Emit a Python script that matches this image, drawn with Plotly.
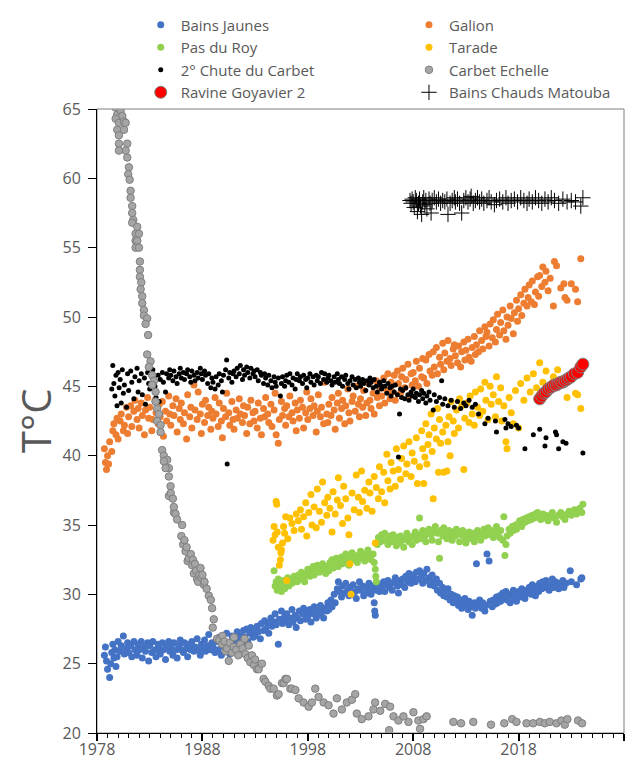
import plotly.graph_objects as go

# ---------------- data ----------------
bj_x = [1978.7,1978.8,1978.9,1979.0,1979.2,1979.3,1979.4,1979.5,1979.6,1979.7,1979.8,1979.9,
        1980.0,1980.2,1980.3,1980.5,1980.6,1980.8,1980.9,
        1981.0,1981.2,1981.3,1981.5,1981.6,1981.8,1981.9,
        1982.0,1982.2,1982.3,1982.5,1982.6,1982.8,1982.9,
        1983.0,1983.2,1983.3,1983.5,1983.6,1983.8,1983.9,
        1984.0,1984.2,1984.3,1984.5,1984.6,1984.8,1984.9,
        1985.0,1985.2,1985.3,1985.5,1985.6,1985.8,1985.9,
        1986.0,1986.2,1986.3,1986.5,1986.6,1986.8,1986.9,
        1987.0,1987.2,1987.3,1987.5,1987.6,1987.8,1987.9,
        1988.0,1988.2,1988.3,1988.5,1988.6,1988.8,1988.9,
        1989.0,1989.2,1989.3,1989.5,1989.6,1989.8,1989.9,
        1990.0,1990.2,1990.3,1990.5,1990.6,1990.8,1990.9,
        1991.0,1991.2,1991.3,1991.5,1991.6,1991.8,1991.9,
        1992.0,1992.2,1992.3,1992.5,1992.6,1992.8,1992.9,
        1993.0,1993.2,1993.3,1993.5,1993.6,1993.8,1993.9,
        1994.0,1994.2,1994.3,1994.5,1994.6,1994.8,1994.9,
        1995.0,1995.2,1995.3,1995.5,1995.6,1995.8,1995.9,
        1996.0,1996.2,1996.3,1996.5,1996.6,1996.8,1996.9,
        1997.0,1997.2,1997.3,1997.5,1997.6,1997.8,1997.9,
        1998.0,1998.2,1998.3,1998.5,1998.6,1998.8,1998.9,
        1999.0,1999.2,1999.3,1999.5,1999.6,1999.8,1999.9,
        2000.0,2000.2,2000.3,2000.5,2000.6,2000.8,2000.9,
        2001.0,2001.2,2001.3,2001.5,2001.6,2001.8,2001.9,
        2002.0,2002.2,2002.3,2002.5,2002.6,2002.8,2002.9,
        2003.0,2003.2,2003.3,2003.5,2003.6,2003.8,2003.9,
        2004.0,2004.2,2004.3,2004.35,2004.4,2004.5,2004.6,2004.8,2004.9,
        2005.0,2005.2,2005.3,2005.5,2005.6,2005.8,2005.9,
        2006.0,2006.2,2006.3,2006.5,2006.6,2006.8,2006.9,
        2007.0,2007.2,2007.3,2007.5,2007.6,2007.8,2007.9,
        2008.0,2008.2,2008.3,2008.5,2008.6,2008.8,2008.9,
        2009.0,2009.2,2009.3,2009.5,2009.6,2009.8,2009.9,
        2010.0,2010.2,2010.3,2010.5,2010.6,2010.8,2010.9,
        2011.0,2011.2,2011.3,2011.5,2011.6,2011.8,2011.9,
        2012.0,2012.2,2012.3,2012.5,2012.6,2012.8,2012.9,
        2013.0,2013.2,2013.3,2013.5,2013.6,2013.8,2013.9,
        2014.0,2014.2,2014.3,2014.5,2014.6,2014.8,2014.9,
        2015.0,2015.2,2015.3,2015.5,2015.6,2015.8,2015.9,
        2016.0,2016.2,2016.3,2016.5,2016.6,2016.8,2016.9,
        2017.0,2017.2,2017.3,2017.5,2017.6,2017.8,2017.9,
        2018.0,2018.2,2018.3,2018.5,2018.6,2018.8,2018.9,
        2019.0,2019.2,2019.3,2019.5,2019.6,2019.8,2019.9,
        2020.0,2020.2,2020.3,2020.5,2020.6,2020.8,2020.9,
        2021.0,2021.2,2021.3,2021.5,2021.6,2021.8,2021.9,
        2022.0,2022.2,2022.3,2022.5,2022.9,2023.0,2023.5,2023.9,2024.0]
bj_y = [25.6,26.2,25.2,24.6,24.0,25.0,25.8,26.4,25.4,26.0,24.8,25.5,
        26.6,25.9,26.3,27.0,25.7,26.1,26.5,
        25.8,26.3,25.5,26.6,26.0,25.6,26.4,
        26.0,26.6,25.4,26.2,25.9,26.5,25.2,
        26.3,25.8,26.6,26.0,25.5,26.4,26.1,
        25.7,26.5,26.0,25.3,26.3,26.6,25.9,
        26.2,25.6,26.5,26.0,25.4,26.3,26.7,
        26.0,25.8,26.5,26.1,25.5,26.4,26.0,
        26.6,25.9,26.2,26.8,26.0,25.6,26.4,
        26.1,26.7,25.9,26.3,27.1,26.0,26.5,
        26.2,25.8,26.6,26.0,26.9,25.6,26.3,
        26.6,25.9,27.2,26.4,25.7,27.0,26.5,
        26.8,26.3,27.3,26.7,27.0,26.4,27.4,
        26.9,27.5,26.6,27.2,27.6,26.9,27.3,
        27.0,27.7,27.3,26.8,27.9,27.4,28.1,
        27.5,27.9,27.2,28.3,27.7,28.0,28.6,
        27.8,26.4,28.2,28.8,27.9,28.4,28.1,
        28.6,27.8,28.3,28.9,28.0,28.5,27.6,
        28.3,28.8,28.1,28.6,29.0,28.2,28.7,
        28.4,28.9,28.0,28.6,29.1,28.3,28.8,
        28.5,29.2,28.7,28.3,29.0,28.8,29.4,
        28.9,29.6,29.1,30.0,29.4,30.4,30.9,
        30.2,29.8,30.6,30.1,30.8,30.3,29.9,
        30.5,30.0,30.7,30.2,29.7,30.4,30.9,
        30.3,30.6,29.9,30.5,30.1,30.8,30.4,
        30.0,30.6,29.4,28.8,28.5,30.3,30.8,30.2,30.6,
        30.4,30.9,30.2,30.7,31.0,30.5,30.8,
        30.3,30.9,31.2,30.6,30.1,31.0,30.7,
        31.1,30.5,31.3,30.9,31.5,30.8,31.2,
        31.4,30.9,31.6,31.1,31.7,31.3,30.8,
        31.5,31.0,31.8,31.2,30.7,31.4,30.9,
        30.6,31.1,30.3,30.8,30.1,30.5,29.9,
        30.2,29.8,30.4,29.6,30.0,29.4,29.9,
        29.5,29.8,29.2,29.6,29.0,29.4,29.7,
        29.3,28.9,29.5,29.1,28.5,29.4,29.0,
        32.2,29.3,29.6,29.0,29.4,28.8,29.2,
        32.9,32.4,29.5,29.1,29.6,29.3,29.8,
        29.4,29.9,29.5,30.1,29.7,30.2,29.6,
        30.0,29.4,29.9,30.3,29.7,29.5,30.0,
        30.2,29.8,30.4,30.0,29.7,30.3,30.1,
        30.5,30.0,30.7,30.3,29.9,30.6,30.2,
        30.8,30.4,30.9,30.5,31.0,30.6,30.3,
        30.7,31.1,30.5,30.9,30.6,30.4,30.8,
        30.7,31.0,30.5,30.8,31.7,30.9,30.7,31.1,31.2]

ga_x = [1978.7,1978.8,1978.9,1979.0,1979.1,1979.2,1979.4,1979.5,1979.6,1979.8,1979.9,
        1980.0,1980.2,1980.3,1980.5,1980.6,1980.8,1980.9,
        1981.0,1981.2,1981.3,1981.5,1981.6,1981.8,1981.9,
        1982.0,1982.2,1982.3,1982.5,1982.6,1982.8,1982.9,
        1983.0,1983.2,1983.3,1983.5,1983.6,1983.8,1983.9,
        1984.0,1984.2,1984.3,1984.5,1984.6,1984.8,1984.9,
        1985.0,1985.2,1985.3,1985.5,1985.6,1985.8,1985.9,
        1986.0,1986.2,1986.3,1986.5,1986.6,1986.8,1986.9,
        1987.0,1987.2,1987.3,1987.5,1987.6,1987.8,1987.9,
        1988.0,1988.2,1988.3,1988.5,1988.6,1988.8,1988.9,
        1989.0,1989.2,1989.3,1989.5,1989.6,1989.8,1989.9,
        1990.0,1990.2,1990.3,1990.5,1990.6,1990.8,1990.9,
        1991.0,1991.2,1991.3,1991.5,1991.6,1991.8,1991.9,
        1992.0,1992.2,1992.3,1992.5,1992.6,1992.8,1992.9,
        1993.0,1993.2,1993.3,1993.5,1993.6,1993.8,1993.9,
        1994.0,1994.2,1994.3,1994.5,1994.6,1994.8,1994.9,
        1995.0,1995.2,1995.3,1995.5,1995.6,1995.8,1995.9,
        1996.0,1996.2,1996.3,1996.5,1996.6,1996.8,1996.9,
        1997.0,1997.2,1997.3,1997.5,1997.6,1997.8,1997.9,
        1998.0,1998.2,1998.3,1998.5,1998.6,1998.8,1998.9,
        1999.0,1999.2,1999.3,1999.5,1999.6,1999.8,1999.9,
        2000.0,2000.2,2000.3,2000.5,2000.6,2000.8,2000.9,
        2001.0,2001.2,2001.3,2001.5,2001.6,2001.8,2001.9,
        2002.0,2002.2,2002.3,2002.5,2002.6,2002.8,2002.9,
        2003.0,2003.2,2003.3,2003.5,2003.6,2003.8,2003.9,
        2004.0,2004.2,2004.3,2004.5,2004.6,2004.8,2004.9,
        2005.0,2005.2,2005.3,2005.5,2005.6,2005.8,2005.9,
        2006.0,2006.2,2006.3,2006.5,2006.6,2006.8,2006.9,
        2007.0,2007.2,2007.3,2007.5,2007.6,2007.8,2007.9,
        2008.0,2008.2,2008.3,2008.5,2008.6,2008.8,2008.9,
        2009.0,2009.2,2009.3,2009.5,2009.6,2009.8,2009.9,
        2010.0,2010.2,2010.3,2010.5,2010.6,2010.8,2010.9,
        2011.0,2011.2,2011.3,2011.5,2011.6,2011.8,2011.9,
        2012.0,2012.2,2012.3,2012.5,2012.6,2012.8,2012.9,
        2013.0,2013.2,2013.3,2013.5,2013.6,2013.8,2013.9,
        2014.0,2014.2,2014.3,2014.5,2014.6,2014.8,2014.9,
        2015.0,2015.2,2015.3,2015.5,2015.6,2015.8,2015.9,
        2016.0,2016.2,2016.3,2016.5,2016.6,2016.8,2016.9,
        2017.0,2017.2,2017.3,2017.5,2017.6,2017.8,2017.9,
        2018.0,2018.2,2018.3,2018.5,2018.6,2018.8,2018.9,
        2019.0,2019.2,2019.3,2019.5,2019.6,2019.8,2019.9,
        2020.0,2020.2,2020.3,2020.5,2020.6,2020.8,2021.0,2021.3,
        2021.4,2021.6,2022.0,2022.3,2022.4,2022.6,2023.0,2023.4,2023.6,2023.9]
ga_y = [40.5,39.5,39.0,40.0,39.4,41.0,40.3,41.8,42.3,41.5,42.7,
        41.2,42.5,43.0,41.8,42.2,43.5,41.6,
        42.8,43.6,42.1,43.2,44.0,42.6,43.4,
        42.0,43.8,42.9,41.5,43.3,44.2,42.7,
        43.5,41.8,42.6,44.0,43.1,42.3,43.7,
        42.8,43.9,41.4,43.2,42.5,44.3,43.0,
        42.2,43.6,42.9,44.1,41.7,43.4,42.6,
        43.8,42.3,43.1,41.2,44.4,42.8,43.5,
        42.0,45.1,43.3,42.6,44.6,43.0,41.6,
        43.7,42.4,44.0,42.9,43.5,41.9,43.2,
        42.7,44.2,43.0,42.1,43.8,42.5,41.3,
        43.4,42.8,44.5,43.1,42.2,43.9,42.6,
        41.9,43.3,42.7,44.1,43.0,42.4,43.6,
        42.9,41.6,43.5,42.3,44.0,43.1,42.5,
        43.2,42.0,43.8,42.7,41.5,43.4,42.8,
        44.2,43.0,42.4,43.7,42.1,43.3,44.5,
        41.5,40.9,42.6,43.9,42.9,43.4,42.2,
        43.6,42.8,44.3,43.1,42.5,43.8,41.8,
        43.3,42.7,44.0,43.5,42.0,43.1,44.6,
        42.6,43.4,44.1,42.9,43.6,41.7,43.2,
        44.4,42.8,43.5,42.3,45.3,43.0,42.4,
        43.7,42.9,44.2,43.3,41.9,43.8,44.5,
        42.7,43.4,44.0,42.3,43.6,44.8,43.1,
        42.5,43.9,44.3,43.2,45.0,43.7,42.8,
        44.1,43.5,44.7,42.9,43.8,45.2,44.0,
        43.4,44.5,43.0,45.4,44.2,43.6,44.9,
        44.3,45.6,43.8,44.7,45.9,44.1,45.3,
        44.6,45.8,44.0,46.1,45.2,44.5,45.7,
        46.3,44.9,45.5,46.6,44.3,45.9,45.1,
        46.0,45.4,46.8,45.0,46.3,45.7,47.0,
        45.6,46.9,45.2,47.3,46.1,45.8,47.5,
        46.4,47.8,45.9,47.1,46.6,48.1,46.2,
        47.4,46.8,48.3,47.0,46.5,47.7,48.0,
        47.2,46.7,47.9,46.4,47.5,48.2,46.9,
        47.6,48.4,47.1,46.8,47.8,48.6,47.3,
        48.0,47.5,49.0,48.3,47.7,49.3,48.6,
        48.9,47.9,49.5,48.5,49.8,48.2,49.1,
        50.2,48.7,49.6,50.5,49.0,48.4,50.0,
        49.4,50.8,49.9,48.8,50.3,51.2,49.7,
        50.6,51.6,50.1,51.0,52.0,50.8,51.4,
        52.3,51.1,52.6,50.9,51.8,52.9,51.5,
        53.0,52.2,53.6,52.5,53.3,51.9,52.8,50.8,
        54.0,53.7,52.1,52.4,51.4,51.2,52.4,52.0,51.1,54.2]

pr_x = [1994.8,1994.9,1995.0,1995.1,1995.2,1995.3,1995.4,1995.5,1995.6,1995.7,1995.8,1995.9,
        1996.1,1996.2,1996.4,1996.5,1996.7,1996.8,1997.0,1997.1,1997.3,1997.4,1997.6,1997.7,1997.9,
        1998.0,1998.2,1998.3,1998.5,1998.6,1998.8,1998.9,1999.1,1999.2,1999.4,1999.5,1999.7,1999.8,
        2000.0,2000.1,2000.3,2000.4,2000.6,2000.7,2000.9,2001.0,2001.2,2001.3,2001.5,2001.6,2001.8,2001.9,
        2002.1,2002.2,2002.4,2002.5,2002.7,2002.8,2003.0,2003.1,2003.3,2003.4,2003.6,2003.7,2003.9,
        2004.0,2004.2,2004.3,2004.4,2004.45,2004.5,2004.6,2004.7,2004.9,
        2005.0,2005.2,2005.3,2005.5,2005.6,2005.8,2005.9,2006.1,2006.2,2006.4,2006.5,2006.7,2006.8,
        2007.0,2007.1,2007.3,2007.4,2007.6,2007.7,2007.9,2008.0,2008.2,2008.3,2008.5,2008.6,2008.8,2008.9,
        2009.1,2009.2,2009.4,2009.5,2009.7,2009.8,2010.0,2010.1,2010.3,2010.4,2010.5,2010.6,2010.8,2010.9,
        2011.1,2011.2,2011.4,2011.5,2011.7,2011.8,2012.0,2012.1,2012.3,2012.4,2012.6,2012.7,2012.9,
        2013.0,2013.2,2013.3,2013.5,2013.6,2013.8,2013.9,2014.1,2014.2,2014.4,2014.5,2014.7,2014.8,
        2015.0,2015.1,2015.3,2015.4,2015.6,2015.7,2015.9,2016.0,2016.2,2016.3,2016.5,2016.6,2016.7,2016.8,2016.9,
        2017.1,2017.2,2017.4,2017.5,2017.7,2017.8,2018.0,2018.1,2018.3,2018.4,2018.6,2018.7,2018.9,
        2019.0,2019.2,2019.3,2019.5,2019.6,2019.8,2019.9,2020.1,2020.3,2020.4,2020.6,2020.8,
        2021.0,2021.2,2021.4,2021.6,2021.8,2022.0,2022.2,2022.4,2022.6,2022.8,
        2023.0,2023.3,2023.5,2023.8,2024.0,2024.1]
pr_y = [31.7,30.6,30.9,30.3,31.1,30.5,30.8,30.2,30.7,31.0,30.4,30.9,
        31.2,30.6,31.0,30.8,31.3,31.0,30.9,31.4,31.1,31.6,31.2,30.9,31.5,
        31.8,31.3,31.6,32.0,31.4,31.7,32.1,31.6,31.9,32.2,31.8,31.5,32.0,
        31.7,32.3,32.5,31.9,32.2,32.6,32.0,32.4,32.7,32.2,32.5,32.9,32.4,32.1,
        32.6,33.0,32.5,32.8,32.3,32.7,33.1,32.6,32.9,32.4,32.8,33.2,32.7,
        32.5,32.9,32.3,31.8,31.3,30.9,33.6,34.1,33.8,
        34.3,33.9,34.4,34.0,33.6,34.2,33.8,34.3,33.9,33.5,34.1,33.7,34.2,
        33.9,33.4,34.0,34.4,33.8,34.1,33.6,34.2,34.5,33.9,34.3,35.5,34.0,34.6,
        34.2,33.8,34.4,34.7,34.3,33.9,34.5,34.9,34.4,33.8,32.6,34.6,34.2,34.8,
        34.4,34.0,34.6,34.3,33.9,34.5,34.2,34.7,34.4,33.8,34.3,34.6,34.1,
        33.7,34.3,34.5,34.0,34.4,33.8,34.2,34.6,34.3,33.9,34.4,34.7,34.2,
        34.5,34.8,34.3,34.6,34.1,34.5,34.9,34.4,34.1,34.6,33.9,35.6,32.8,33.6,34.2,
        34.7,34.4,34.9,34.6,35.0,34.7,35.1,35.3,34.9,35.4,35.2,35.5,35.3,
        35.6,35.4,35.7,35.5,35.8,35.9,35.6,35.4,35.8,35.5,35.7,35.3,
        35.6,35.9,35.5,35.2,35.7,35.9,35.6,35.4,35.8,36.0,
        35.7,36.1,35.8,36.2,35.9,36.5]

ta_x = [1994.7,1994.8,1994.9,1995.0,1995.05,1995.1,1995.2,1995.3,1995.4,1995.45,1995.5,1995.6,1995.7,1995.8,
        1995.9,1996.0,1996.1,1996.3,1996.5,1996.7,1996.9,
        1997.1,1997.3,1997.4,1997.6,1997.8,1997.9,1998.1,1998.3,1998.4,1998.6,1998.8,1998.9,
        1999.1,1999.3,1999.4,1999.6,1999.8,1999.9,2000.1,2000.3,2000.4,2000.6,2000.8,2000.9,
        2001.1,2001.3,2001.4,2001.6,2001.8,2001.9,2002.0,2002.1,2002.2,2002.4,2002.6,2002.8,2002.9,
        2003.1,2003.2,2003.4,2003.6,2003.8,2003.9,2004.1,2004.3,2004.4,2004.5,2004.7,2004.8,
        2005.0,2005.2,2005.3,2005.5,2005.6,2005.8,2005.9,2006.1,2006.3,2006.4,2006.6,2006.8,2006.9,
        2007.1,2007.3,2007.4,2007.6,2007.8,2007.9,2008.1,2008.3,2008.4,2008.6,2008.8,2008.9,
        2009.0,2009.1,2009.2,2009.3,2009.4,2009.5,2009.7,2009.8,2009.9,
        2010.0,2010.2,2010.3,2010.4,2010.5,2010.6,2010.8,2010.9,
        2011.1,2011.2,2011.3,2011.4,2011.5,2011.6,2011.8,2011.9,
        2012.1,2012.3,2012.4,2012.6,2012.8,2012.9,2013.1,2013.3,2013.4,2013.6,2013.8,2013.9,
        2014.1,2014.3,2014.4,2014.6,2014.8,2014.9,2015.1,2015.3,2015.4,2015.6,2015.8,2015.9,
        2016.1,2016.3,2016.4,2016.6,2016.8,2016.9,2017.1,2017.3,2017.5,2017.7,
        2018.0,2018.2,2018.5,2018.8,2019.1,2019.4,2019.7,2020.0,2020.3,2020.6,2020.9,
        2021.3,2021.7,2022.1,2022.6,2023.0,2023.4,2023.6,2023.9]
ta_y = [33.9,34.9,34.3,36.7,36.5,34.5,33.4,32.1,32.5,33.0,33.2,33.7,34.9,34.4,
        35.6,31.0,34.0,35.5,35.1,34.6,35.8,
        35.3,36.1,34.7,35.6,36.6,34.2,35.9,37.2,35.0,36.3,34.8,37.6,
        36.0,35.2,38.1,36.6,35.7,37.0,36.2,34.5,37.4,35.8,36.8,38.4,
        36.4,35.1,37.8,36.9,35.5,34.3,32.2,30.0,37.3,36.1,38.6,37.0,35.9,
        38.9,36.7,37.5,36.2,38.1,37.3,36.0,38.5,33.7,37.7,36.9,39.2,
        37.4,38.8,36.6,40.1,38.2,37.6,39.5,38.9,37.8,40.5,39.0,38.3,39.8,
        40.7,38.7,39.4,41.0,38.5,40.2,39.6,41.3,38.0,39.2,41.8,40.5,
        38.0,39.9,42.3,39.4,40.8,41.5,43.0,40.3,36.9,
        42.0,41.2,43.4,38.8,42.6,40.9,41.7,38.8,
        42.2,38.9,41.0,42.8,40.0,43.9,42.5,41.6,
        43.3,42.0,44.1,43.6,39.0,42.7,43.8,42.4,44.3,43.0,42.2,44.6,
        43.5,42.9,44.8,43.2,45.3,44.0,42.6,45.0,43.7,44.4,42.8,45.7,
        43.9,44.9,42.5,43.6,41.0,40.5,44.2,43.1,42.3,44.7,
        42.0,45.2,44.0,45.6,44.6,45.9,44.9,46.7,45.3,46.1,44.8,
        45.7,46.2,45.5,44.2,45.8,44.5,44.4,43.4]

ch_x = [1979.4,1979.5,1979.6,1979.7,1979.8,1979.9,1980.0,1980.1,1980.2,1980.3,1980.4,1980.5,1980.6,1980.8,1980.9,
        1981.0,1981.2,1981.3,1981.5,1981.6,1981.8,1981.9,
        1982.0,1982.2,1982.3,1982.5,1982.6,1982.8,1982.9,
        1983.0,1983.2,1983.3,1983.5,1983.6,1983.8,1983.9,
        1984.0,1984.2,1984.3,1984.5,1984.6,1984.8,1984.9,
        1985.0,1985.2,1985.3,1985.5,1985.6,1985.8,1985.9,
        1986.0,1986.2,1986.3,1986.5,1986.6,1986.8,1986.9,
        1987.0,1987.2,1987.3,1987.5,1987.6,1987.8,1987.9,
        1988.0,1988.2,1988.3,1988.5,1988.6,1988.8,1988.9,
        1989.0,1989.2,1989.3,1989.5,1989.6,1989.8,1989.9,
        1990.0,1990.2,1990.3,1990.35,1990.5,1990.6,1990.8,1990.9,
        1991.0,1991.2,1991.3,1991.5,1991.6,1991.8,1991.9,
        1992.0,1992.2,1992.3,1992.5,1992.6,1992.8,1992.9,
        1993.0,1993.2,1993.3,1993.5,1993.6,1993.8,1993.9,
        1994.0,1994.2,1994.3,1994.5,1994.6,1994.8,1994.9,
        1995.0,1995.2,1995.4,1995.5,1995.6,1995.8,1995.9,
        1996.0,1996.2,1996.3,1996.5,1996.6,1996.8,1996.9,
        1997.0,1997.2,1997.3,1997.5,1997.6,1997.8,1997.9,
        1998.0,1998.2,1998.3,1998.5,1998.6,1998.8,1998.9,
        1999.0,1999.2,1999.3,1999.5,1999.6,1999.8,1999.9,
        2000.0,2000.2,2000.3,2000.5,2000.6,2000.8,2000.9,
        2001.0,2001.2,2001.3,2001.5,2001.6,2001.8,2001.9,
        2002.0,2002.2,2002.3,2002.5,2002.6,2002.8,2002.9,
        2003.0,2003.2,2003.3,2003.5,2003.6,2003.8,2003.9,
        2004.0,2004.2,2004.3,2004.5,2004.6,2004.8,2004.9,
        2005.0,2005.2,2005.3,2005.5,2005.6,2005.8,2005.9,
        2006.0,2006.2,2006.3,2006.5,2006.6,2006.7,2006.8,2006.9,
        2007.0,2007.2,2007.3,2007.5,2007.6,2007.8,2007.9,
        2008.0,2008.2,2008.3,2008.5,2008.6,2008.8,2008.9,
        2009.0,2009.2,2009.3,2009.5,2009.6,2009.9,2010.0,
        2010.2,2010.5,2010.7,2010.8,2011.0,2011.3,2011.6,2011.9,
        2012.2,2012.5,2012.8,2013.0,2013.3,2013.6,2013.9,
        2014.2,2014.8,2015.1,2015.8,2015.9,2016.7,2016.8,2017.0,2017.3,2017.8,2018.0,
        2018.6,2019.4,2020.0,2020.5,2020.6,2021.5,2021.6,2021.8,2022.2,2022.5,2024.1]
ch_y = [44.8,46.5,45.2,44.3,45.8,43.6,46.0,44.9,45.5,43.8,46.2,44.5,45.1,43.5,45.9,
        44.7,46.1,45.3,44.1,45.7,46.3,44.6,
        45.4,45.9,44.4,45.6,43.7,46.0,45.2,
        44.8,45.7,46.2,45.0,44.2,45.8,43.9,
        45.5,46.0,45.3,44.6,45.9,45.6,46.2,
        45.8,45.4,46.1,45.7,45.2,45.9,46.3,
        45.6,46.0,45.5,45.9,46.2,45.7,45.3,
        46.1,45.8,45.4,46.0,45.6,46.3,45.9,
        45.5,46.1,45.8,45.2,45.9,44.9,45.6,
        45.3,44.8,45.7,45.1,45.9,45.4,44.6,
        45.8,46.2,46.9,39.4,45.6,46.0,45.3,45.9,
        46.1,45.7,46.3,45.9,46.5,45.5,46.2,
        45.8,46.4,46.0,45.6,46.3,45.9,46.1,
        45.7,46.2,45.4,46.0,45.8,45.2,45.9,
        45.6,45.1,45.8,45.4,44.9,45.7,45.3,
        45.0,45.6,44.3,45.2,45.7,45.0,45.4,
        45.8,45.3,45.9,45.1,45.6,44.8,45.5,
        45.9,45.4,45.7,45.2,45.8,45.5,44.9,
        45.6,45.9,45.3,45.7,45.1,45.8,45.4,
        45.7,45.2,46.0,45.5,45.9,45.3,45.6,
        45.8,45.4,45.1,45.7,45.3,45.9,45.5,
        45.2,45.7,45.0,45.5,45.8,45.2,44.8,
        45.4,45.7,45.1,45.5,44.9,45.6,45.3,
        45.0,45.5,45.2,44.7,45.4,45.1,45.6,
        45.3,44.9,45.5,45.0,44.6,45.3,45.1,
        44.8,45.4,45.0,44.5,45.2,44.9,44.3,
        45.0,44.6,45.1,44.4,39.9,43.0,44.8,44.2,
        44.7,44.1,44.9,44.4,44.0,44.6,44.3,
        44.8,44.2,44.5,43.9,44.4,44.7,44.1,
        44.5,43.8,44.3,44.6,44.0,43.3,44.4,
        43.9,44.2,45.4,43.7,44.1,43.6,44.0,43.5,
        43.9,43.4,43.8,43.6,44.0,43.5,43.7,
        43.0,42.3,42.7,42.5,41.7,42.6,42.0,42.3,42.1,42.2,42.0,
        40.5,41.5,41.9,40.7,41.3,41.7,41.5,40.5,41.0,40.9,40.2]

ce_x = [1979.77,1979.92,1980.24,1980.40,1979.77,1980.08,1980.56,1980.72,1979.92,1980.56,1980.08,1980.08,
        1980.87,1980.72,1980.08,1980.87,1981.03,1980.96,1981.10,1981.19,1981.19,1981.34,1981.34,1981.44,
        1981.34,1981.82,1981.66,1981.98,1981.66,1981.82,1981.66,1981.98,1982.07,1982.07,1982.07,1982.20,
        1982.14,1982.29,1982.29,1982.45,1982.45,1982.76,1982.61,1982.85,
        1982.76,1983.08,1982.92,1983.24,1983.40,1983.24,1983.56,1983.56,1983.71,1983.87,1983.71,1984.03,
        1984.03,1984.18,1984.34,1984.66,1984.82,
        1984.34,1984.51,1984.82,1984.98,1984.82,1985.0,1985.2,1985.3,1985.29,1985.45,1985.60,1986.08,
        1986.0,1986.17,1986.3,1986.40,1986.5,1986.6,1986.71,1986.9,1987.02,1987.1,1987.19,1987.3,1987.4,
        1987.50,1987.6,1987.7,1987.82,1987.9,1988.0,1988.13,1988.2,1988.4,1988.61,1988.8,1988.92,
        1989.08,1988.98,1989.39,1989.6,1989.87,1989.9,1990.1,1990.2,1990.34,1990.50,1990.6,1990.8,
        1990.97,1991.0,1991.2,1991.4,1991.61,1991.8,1992.0,1992.08,1992.3,1992.4,1992.55,1992.7,
        1992.9,1993.0,1993.18,1993.34,1993.65,1993.81,1993.98,1994.29,1994.45,1994.76,1995.07,
        1995.23,1995.55,1995.71,1995.87,1996.02,1996.34,1996.49,1996.82,1997.13,1997.60,1998.08,
        1998.39,1998.71,1999.02,1999.50,1999.97,2000.44,2000.76,2001.23,2001.70,2002.18,2002.50,
        2002.65,2003.12,2003.76,2004.23,2004.39,2004.87,2005.34,2005.72,2005.81,2006.13,2006.60,
        2007.07,2007.55,2008.02,2008.49,2008.65,2008.97,2009.28,
        2011.81,2012.54,2013.70,2015.38,2016.64,2017.39,2017.80,2018.75,2019.38,2020.02,2020.49,
        2020.96,2021.59,2022.06,2022.38,2022.63,2023.64,2024.02]
ce_y = [65.1,64.6,64.9,64.5,64.3,64.0,64.1,64.0,63.5,63.5,63.1,62.5,
        62.5,62.0,62.0,61.5,60.8,60.3,59.9,59.1,58.6,58.0,57.5,57.0,
        56.8,56.5,56.0,56.0,55.5,55.5,55.0,55.0,54.0,53.4,52.9,52.5,
        52.0,51.5,51.0,50.5,50.1,49.9,49.5,48.7,
        47.3,46.8,46.4,45.8,45.4,45.1,44.6,43.9,43.4,43.0,42.5,42.2,
        41.7,40.4,40.0,39.7,39.1,
        39.6,39.1,38.5,37.8,37.1,37.3,36.9,35.9,36.3,35.8,35.4,35.0,
        34.2,33.6,33.9,33.1,33.4,32.4,32.6,32.9,32.1,32.5,31.5,32.2,31.7,
        31.1,30.9,31.4,31.9,31.2,31.4,30.7,30.9,30.4,29.9,29.6,29.0,
        28.2,27.6,26.8,26.7,26.4,27.0,26.6,25.9,26.1,25.2,26.5,25.8,
        26.2,26.9,26.0,25.6,26.4,26.1,26.8,25.7,25.4,26.3,25.1,25.6,
        24.9,25.3,24.6,24.6,25.0,23.9,23.7,23.4,23.2,23.2,22.7,
        22.8,23.6,23.6,23.9,23.9,23.2,23.2,23.1,22.5,22.2,21.9,
        22.2,23.2,22.6,22.2,22.0,21.4,22.5,21.7,22.2,22.4,22.8,
        21.4,21.0,21.2,21.7,22.2,21.6,22.1,20.2,21.9,21.2,20.9,
        21.2,20.8,21.5,20.9,20.3,21.0,21.2,
        20.8,20.7,20.8,20.6,20.7,21.0,20.8,20.7,20.7,20.8,20.7,
        20.8,20.7,20.9,20.6,21.0,20.9,20.7]

rg_x = [2020.0,2020.2,2020.4,2020.6,2020.8,2021.0,2021.2,2021.4,2021.6,2021.8,
        2022.0,2022.2,2022.4,2022.6,2022.8,2023.0,2023.3,2023.6,2023.9,2024.1]
rg_y = [44.1,44.3,44.5,44.6,44.8,44.9,45.0,45.1,45.1,45.2,
        45.3,45.3,45.4,45.5,45.6,45.7,45.9,46.0,46.4,46.6]

bc_x = [2007.7,2007.8,2007.9,2008.0,2008.1,2008.2,2008.3,2008.4,2008.5,2008.6,2008.7,2008.8,2008.9,
        2009.0,2009.1,2009.2,2009.3,2009.5,2009.6,2009.7,2009.8,2010.0,2010.2,2010.4,2010.6,2010.8,
        2011.0,2011.2,2011.3,2011.5,2011.7,2011.9,2012.0,2012.2,2012.4,2012.6,2012.8,
        2013.0,2013.2,2013.4,2013.5,2013.7,2013.9,2014.1,2014.3,2014.5,2014.7,
        2015.0,2015.2,2015.4,2015.7,2015.9,2016.2,2016.5,2016.8,2017.0,2017.3,2017.6,2017.9,
        2018.2,2018.5,2018.8,2019.0,2019.3,2019.6,2019.9,2020.2,2020.5,2020.8,2021.1,2021.4,
        2021.8,2022.2,2022.6,2023.0,2023.4,2023.9,2024.1]
bc_y = [58.4,58.2,58.5,58.3,57.9,58.6,58.4,57.6,58.2,58.5,58.0,57.4,58.3,
        58.6,58.1,58.4,57.8,58.5,58.2,57.5,58.4,58.6,58.3,58.5,58.2,58.4,
        58.3,58.5,57.4,58.2,58.4,58.6,58.3,58.5,58.2,57.5,58.4,
        58.6,58.3,58.5,58.7,58.2,58.4,58.6,58.3,58.5,58.2,
        58.4,58.6,58.3,58.1,58.4,58.5,58.3,58.6,58.2,58.4,58.5,58.3,
        58.6,58.4,58.2,58.5,58.3,58.6,58.4,58.2,58.5,58.3,58.6,58.4,
        58.2,58.5,58.3,58.4,58.3,58.0,58.6]

x_ticks = [1978, 1988, 1998, 2008, 2018, 2028]
y_ticks = [20, 25, 30, 35, 40, 45, 50, 55, 60, 65]

FONT = "Open Sans"
GREY_TXT = "#595959"

fig = go.Figure()

def add(name, x, y, legend, **marker):
    fig.add_trace(go.Scatter(x=x, y=y, mode="markers", name=name, legend=legend,
                             marker=marker, hoverinfo="x+y+name"))

add("Bains Jaunes", bj_x, bj_y, "legend", color="#4472C4", size=7)
add("Galion", ga_x, ga_y, "legend2", color="#ED7D31", size=7)
add("Pas du Roy", pr_x, pr_y, "legend", color="#92D050", size=7)
add("Tarade", ta_x, ta_y, "legend2", color="#FFC000", size=7)
add("2° Chute du Carbet", ch_x, ch_y, "legend", color="#000000", size=5)
add("Carbet Echelle", ce_x, ce_y, "legend2", color="#A5A5A5", size=7.5,
    line=dict(color="#7F7F7F", width=1))
add("Ravine Goyavier 2", rg_x, rg_y, "legend", color="#FF0000", size=12,
    line=dict(color="#7F7F7F", width=1))
add("Bains Chauds Matouba", bc_x, bc_y, "legend2", symbol="cross-thin", size=11,
    color="#000000", line=dict(color="#000000", width=1))

leg_common = dict(orientation="v", yanchor="top", xanchor="left", bgcolor="rgba(0,0,0,0)",
                  font=dict(family=FONT, size=15, color=GREY_TXT), itemsizing="trace",
                  itemwidth=30, traceorder="normal")

# the page body has an 8px margin: figure is sized/offset so the plot area
# lands at x 97..624, y 109..733 in the 641x762 window
fig.update_layout(
    width=633, height=754,
    margin=dict(l=89, r=17, t=101, b=29, autoexpand=False),
    paper_bgcolor="white", plot_bgcolor="white",
    font=dict(family=FONT, color=GREY_TXT),
    showlegend=True,
    legend=dict(x=0.083, y=1.161, **leg_common),
    legend2=dict(x=0.592, y=1.161, **leg_common),
    xaxis=dict(range=[1978, 2028], tickmode="array", tickvals=x_ticks,
               ticktext=[str(v) for v in x_ticks],
               showgrid=False, zeroline=False, showline=True, linecolor="#000000", linewidth=1,
               ticks="outside", ticklen=7, tickwidth=1.5, tickcolor="#000000",
               tickfont=dict(family=FONT, size=16, color=GREY_TXT),
               ticklabelstandoff=-5,
               minor=dict(dtick=1, tick0=1978, ticks="outside", ticklen=4, tickwidth=1,
                          tickcolor="#000000", showgrid=False),
               automargin=False),
    yaxis=dict(range=[20, 65], tickmode="array", tickvals=y_ticks,
               ticktext=[str(v) for v in y_ticks],
               showgrid=False, zeroline=False, showline=True, linecolor="#000000", linewidth=1,
               ticks="outside", ticklen=8, tickwidth=1, tickcolor="#000000",
               tickfont=dict(family=FONT, size=16, color=GREY_TXT),
               ticklabelstandoff=4, automargin=False),
    shapes=[dict(type="rect", xref="paper", yref="paper", x0=0, x1=1, y0=0, y1=1,
                 line=dict(color="#7F7F7F", width=1), layer="below")],
    annotations=[dict(text="T°C", xref="paper", yref="paper", x=-0.1176, y=0.5,
                      xanchor="center", yanchor="middle", textangle=-90, showarrow=False,
                      font=dict(family=FONT, size=40, color=GREY_TXT))],
)

fig.write_html("out.html")
